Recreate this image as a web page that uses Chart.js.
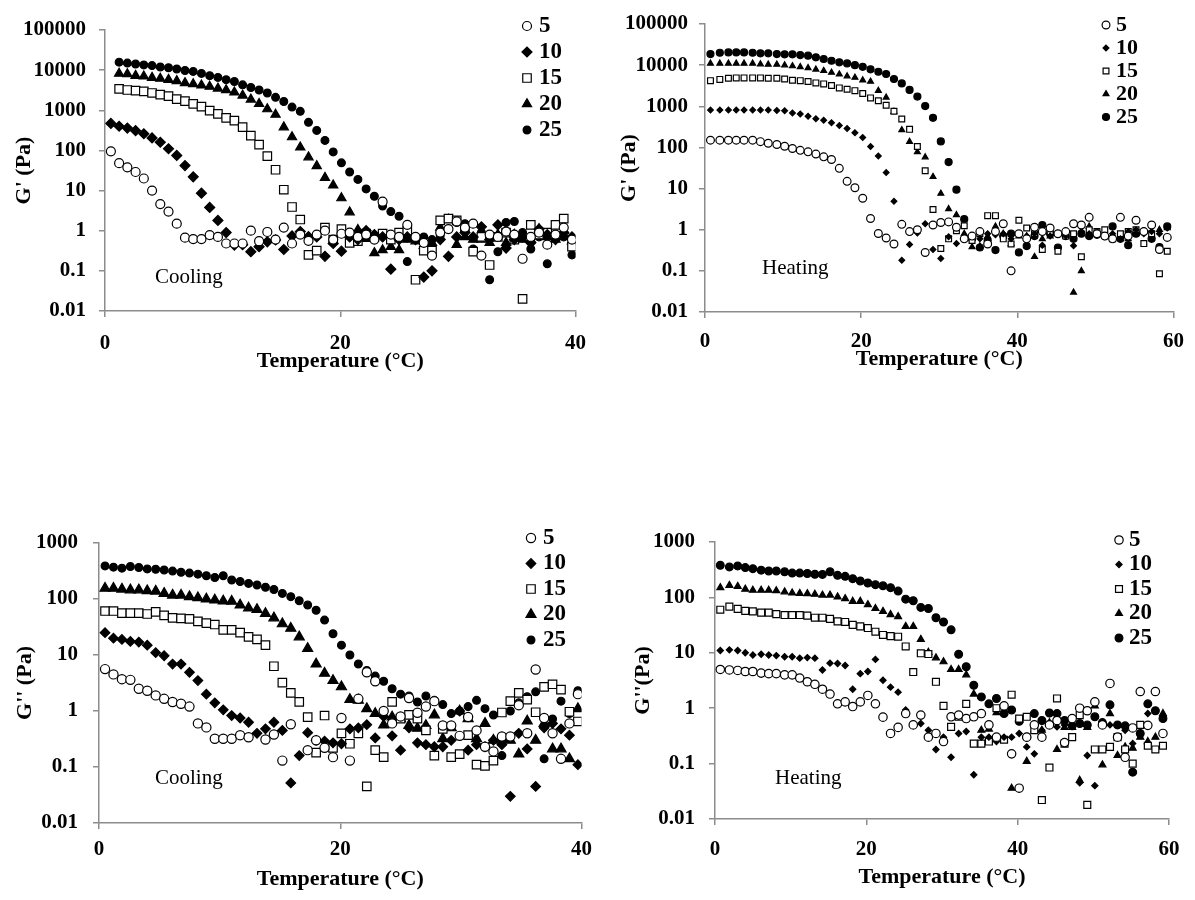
<!DOCTYPE html>
<html>
<head>
<meta charset="utf-8">
<script src="https://cdn.jsdelivr.net/npm/chart.js@4.4.1/dist/chart.umd.min.js"></script>
<style>
  body { margin: 0; background: #ffffff; width: 1195px; height: 900px; position: relative; overflow: hidden; }
  .panel { position: absolute; }
</style>
</head>
<body>
<script>
// ---- data ----
const seriesNames = ['5', '10', '15', '20', '25'];

// temperature grid (°C) for the cooling and heating sweeps
const coolTemp = [0.5, 1.2, 1.9, 2.6, 3.3, 4.0, 4.7, 5.4, 6.1, 6.8, 7.5, 8.2, 8.9, 9.6, 10.3, 11.0, 11.7, 12.4, 13.1, 13.8,
  14.5, 15.2, 15.9, 16.6, 17.3, 18.0, 18.7, 19.4, 20.1, 20.8, 21.5, 22.2, 22.9, 23.6, 24.3, 25.0, 25.7, 26.4, 27.1, 27.8,
  28.5, 29.2, 29.9, 30.6, 31.3, 32.0, 32.7, 33.4, 34.1, 34.8, 35.5, 36.2, 36.9, 37.6, 38.3, 39.0, 39.7];
const heatTemp = [0.7, 1.9, 3.0, 4.0, 5.0, 6.1, 7.1, 8.1, 9.2, 10.2, 11.2, 12.2, 13.2, 14.2, 15.2, 16.2, 17.2, 18.2, 19.2, 20.2,
  21.2, 22.2, 23.2, 24.2, 25.2, 26.2, 27.2, 28.2, 29.2, 30.2, 31.2, 32.2, 33.2, 34.2, 35.2, 36.2, 37.2, 38.2, 39.2, 40.2,
  41.2, 42.2, 43.2, 44.2, 45.2, 46.2, 47.2, 48.2, 49.2, 50.2, 51.2, 52.2, 53.2, 54.2, 55.2, 56.2, 57.2, 58.2, 59.2];

// tick labels
const gPrimeTicks = [0.01, 0.1, 1, 10, 100, 1000, 10000, 100000];
const gDoubleTicks = [0.01, 0.1, 1, 10, 100, 1000];
const coolTempTicks = [0, 20, 40];
const heatTempTicks = [0, 20, 40, 60];

// G' cooling (Pa)
const gpCool5 = [95, 48, 38, 29, 20, 10, 4.6, 3.0, 1.5, 0.67, 0.62, 0.62, 0.78, 0.7, 0.48, 0.48, 0.48, 1.0, 0.55, 0.93,
  0.6, 1.2, 0.48, 0.8, 0.56, 0.8, 1.0, 0.6, 0.84, 0.9, 0.7, 0.8, 0.6, 5.3, 0.8, 0.7, 1.4, 0.7, 0.5, 0.24,
  0.9, 1.1, 1.7, 1.2, 1.5, 0.24, 0.8, 0.7, 0.95, 0.8, 0.2, 0.7, 0.9, 0.45, 0.8, 1.2, 0.6];
const gpCool10 = [470, 400, 360, 310, 260, 205, 160, 110, 75, 42, 22, 8.6, 3.8, 1.8, 0.9, 0.44, 0.45, 0.3, 0.4, 0.53,
  0.59, 0.34, 0.74, 0.95, 0.71, 0.7, 0.23, 0.48, 0.31, 0.7, 0.6, 1.0, 0.8, 0.7, 0.11, 0.6, 0.7, 0.6, 0.07, 0.1,
  0.6, 0.23, 0.7, 0.9, 0.7, 1.25, 0.6, 1.4, 0.37, 0.6, 0.7, 0.5, 1.1, 0.8, 0.6, 0.9, 0.7];
const gpCool15 = [null, 3400, 3200, 3100, 2950, 2700, 2450, 2250, 1900, 1700, 1450, 1230, 980, 810, 650, 550, 380, 235, 140, 72,
  33, 10.5, 3.9, 1.9, 0.25, 0.32, 1.2, 0.6, 1.1, 0.5, 0.55, 0.85, 0.7, 0.85, 0.6, 0.9, 1.0, 0.06, 0.32, 0.32,
  1.8, 2.0, 1.8, 1.2, 0.3, 0.7, 0.14, 0.7, 0.9, 0.6, 0.02, 1.4, 0.8, 0.9, 1.4, 2.0, 0.4];
const gpCool20 = [null, 8200, 8000, 7300, 7000, 6500, 6200, 5800, 5400, 4800, 4500, 4200, 3900, 3500, 3200, 2800, 2350, 1860, 1450, 1070,
  780, 380, 215, 120, 68, 41, 21, 13.5, 6.5, 2.9, 1.05, 0.63, 0.28, 0.33, 0.4, 0.33, 0.6, 0.55, 0.42, 0.5,
  1.2, 1.9, 0.45, 0.7, 0.6, 0.6, 0.5, 0.8, 0.5, 0.8, 0.6, 0.6, 1.1, 0.7, 0.6, 1.0, 0.55];
const gpCool25 = [null, 15800, 15000, 14200, 13500, 13000, 12000, 11500, 10700, 9800, 9300, 8300, 7300, 6600, 5800, 5200, 4300, 3700, 3200, 2700,
  2100, 1660, 1200, 940, 500, 315, 178, 92, 49, 29, 19, 11, 7.2, 4.1, 3.0, 2.3, 0.17, 0.6, 0.7, 0.6,
  0.75, 1.1, 1.6, 1.5, 0.35, 0.9, 0.06, 0.3, 1.6, 1.7, 0.9, 0.35, 0.7, 0.15, 0.8, 0.7, 0.25];

// G' heating (Pa)
const gpHeat5 = [150, 150, 150, 150, 150, 150, 138, 126, 118, 107, 94, 85, 78, 69, 59, 51, 31, 15, 10.5, 5.8,
  1.87, 0.81, 0.63, 0.45, 1.35, 0.9, 1.0, 0.28, 1.3, 1.5, 1.55, 1.15, 0.6, 0.7, 0.9, 0.45, 0.9, 1.4, 0.1, 0.8,
  0.6, 1.15, 0.9, 1.1, 0.8, 0.9, 1.4, 1.3, 2.0, 0.8, 0.7, 0.6, 2.0, 0.7, 1.7, 0.9, 1.3, 0.33, 0.65];
const gpHeat10 = [810, 810, 810, 810, 810, 810, 810, 810, 790, 780, 690, 650, 575, 500, 460, 400, 340, 290, 228, 175,
  105, 62, 24.5, 4.9, 0.18, 0.44, 0.83, 1.4, 0.33, 0.2, 0.67, 0.46, 0.7, 0.7, 0.6, 0.8, 0.75, 0.8, 0.6, 0.8,
  0.7, 0.8, 0.42, 0.7, 0.8, 0.7, 0.41, 0.9, 0.8, 0.9, 0.7, 0.8, 0.6, 0.9, 1.0, 0.8, 0.9, 0.8, 1.1];
const gpHeat15 = [4200, 4500, 4800, 4900, 4900, 4900, 4900, 4800, 4800, 4600, 4300, 4200, 4000, 3700, 3500, 3200, 2800, 2600, 2400, 2050,
  1600, 1360, 1060, 760, 490, 275, 105, 27, 3.1, 0.35, 0.6, 0.95, 1.25, 0.55, 0.8, 2.2, 2.2, 0.6, 0.45, 1.7,
  1.1, 0.8, 0.33, 0.9, 0.3, 0.7, 0.8, 0.22, 1.0, 0.9, 1.0, 0.6, 0.8, 0.9, 1.0, 0.46, 0.8, 0.085, 0.3];
const gpHeat20 = [11000, 11000, 11000, 11000, 11000, 11000, 10600, 10400, 10400, 10000, 9500, 9100, 8600, 7900, 7300, 6600, 6000, 5400, 5000, 4300,
  4000, 2400, 1650, 740, 265, 138, 78, 58, 19.4, 7.6, 3.2, 2.3, 0.8, 0.38, 0.4, 0.7, 1.2, 0.8, 0.45, 0.7,
  0.7, 0.22, 0.6, 0.7, 0.8, 0.7, 0.03, 0.1, 1.2, 0.8, 0.7, 0.6, 0.7, 0.6, 0.8, 0.9, 0.7, 1.0, 1.1];
const gpHeat25 = [18600, 20000, 20400, 20400, 20400, 20000, 19400, 19400, 18600, 18300, 18300, 17600, 17000, 15500, 14100, 12800, 11700, 11000, 10000, 9100,
  7900, 6900, 6100, 4600, 3600, 2500, 1720, 1010, 525, 140, 44, 9.4, 1.8, 0.6, 0.37, 0.55, 0.32, 0.7, 0.8, 0.28,
  0.4, 0.7, 1.3, 0.8, 0.37, 0.7, 0.6, 0.8, 0.7, 0.75, 0.7, 1.2, 0.6, 0.42, 0.8, 0.9, 0.6, 0.38, 1.2];

// G'' cooling (Pa)
const gppCool5 = [5.6, 4.5, 3.7, 3.6, 2.5, 2.3, 1.9, 1.65, 1.45, 1.35, 1.2, 0.6, 0.51, 0.32, 0.32, 0.32, 0.37, 0.34, null, 0.31,
  0.38, 0.13, 0.58, null, 0.2, 0.3, 0.22, 0.15, 0.75, 0.13, 1.65, 4.9, 3.4, 1.0, 0.6, 0.8, 1.7, 0.93, 1.2, 1.5,
  0.55, 0.55, 0.36, 0.78, 0.45, 0.23, 0.19, 0.35, 0.35, 1.27, 0.4, 5.5, 0.75, 0.4, 0.14, 0.6, 2.0];
const gppCool10 = [25, 20, 19, 17.5, 17, 15, 11, 9.7, 6.9, 6.9, 4.9, 3.5, 2.0, 1.4, 1.05, 0.83, 0.75, 0.63, 0.4, 0.48,
  0.63, 0.45, 0.052, 0.16, 0.41, 0.3, 0.29, 0.27, 0.26, 0.48, 0.5, 0.57, 0.33, 0.8, 0.36, 0.2, 0.5, 0.27, 0.25, 0.23,
  0.23, 0.3, 1.0, 0.2, 0.25, 0.23, 0.3, 0.25, 0.03, 0.4, 0.21, 0.045, 0.5, 0.6, 0.48, 0.37, 0.11];
const gppCool15 = [61, 61, 56, 56, 56, 54, 59, 51, 46, 45, 44, 40, 37, 35, 28, 28, 25, 21, 19, 15,
  6.3, 3.2, 2.1, 1.45, 0.78, 0.18, 0.83, 0.22, 0.4, 0.26, 0.4, 0.045, 0.2, 0.15, 1.45, 0.73, 0.85, 0.73, 0.45, 0.16,
  0.48, 0.15, 0.17, 0.37, 0.11, 0.105, 0.13, 0.94, 1.5, 2.1, 1.6, 0.95, 2.7, 3.0, 2.4, 0.97, 0.65];
const gppCool20 = [155, 155, 150, 145, 145, 140, 138, 126, 117, 117, 110, 105, 100, 96, 92, 91, 78, 69, 65, 55,
  46, 36, 30, 21, 13, 6.9, 4.7, 3.5, 2.7, 1.6, 1.55, 1.1, 0.9, 0.56, 0.78, 0.73, 0.55, 0.49, 0.55, 0.85,
  0.32, 0.5, 1.0, 0.73, 0.32, 0.6, 0.3, 0.32, 0.3, 0.17, 0.66, 0.3, 0.6, 0.21, 0.21, 0.14, 1.1];
const gppCool25 = [390, 370, 355, 380, 365, 345, 340, 330, 315, 300, 290, 278, 260, 242, 260, 218, 205, 190, 178, 162,
  148, 126, 110, 93, 78, 63, 42, 24, 15, 10, 6.9, 5.3, 4.2, 3.4, 2.5, 2.0, 1.85, 1.45, 1.85, 1.55,
  1.3, 0.9, 1.0, 1.2, 1.55, 1.1, 0.85, 0.16, 1.0, 1.4, 1.8, 2.2, 0.14, 0.72, 1.5, 0.9, 2.3];

// G'' heating (Pa)
const gppHeat5 = [5.0, 4.9, 4.8, 4.6, 4.6, 4.3, 4.2, 4.2, 4.0, 4.0, 3.5, 3.0, 2.7, 2.2, 1.8, 1.2, 1.3, 1.07, 1.3, 1.7,
  1.2, 0.69, 0.35, 0.45, 0.8, 0.5, 0.75, 0.3, 0.35, 0.25, 0.7, 0.75, 0.65, 0.7, 0.8, 0.5, 0.3, 1.1, 0.15, 0.036,
  0.3, 0.5, 0.3, 0.5, 0.6, 0.24, 0.65, 1.0, 0.9, 1.3, 0.5, 2.8, 0.3, 0.13, 0.44, 2.0, 0.49, 2.0, 0.35];
const gppHeat10 = [11, 11.3, 11, 10, 9.1, 9.4, 9.1, 8.9, 8.5, 8.5, 8.0, 8.2, 8.0, 4.9, 6.5, 6.4, 5.9, 2.2, 4.2, 4.6,
  7.6, 3.2, 2.4, 1.95, 0.93, 0.5, 0.53, 0.4, 0.18, 0.3, 0.13, 0.35, 0.38, 0.063, 0.3, 0.3, 0.25, 0.3, 0.3, 0.35,
  0.2, 0.15, 0.4, 0.8, 0.46, 0.5, 0.5, 0.045, 0.14, 0.04, 0.5, 0.5, 0.5, 0.4, 0.23, 0.35, 0.8, 0.9, 0.7];
const gppHeat15 = [60, 68, 62, 57, 56, 53, 53, 50, 48, 48, 48, 47, 43, 43, 41, 37, 36, 32, 30, 28,
  24, 21, 20, 19.5, 13, 4.5, 9.8, 9.5, 3.0, 1.1, 0.46, 0.7, 1.2, 0.23, 0.23, 0.25, 1.0, 0.27, 1.75, 0.65,
  0.7, 0.4, 0.022, 0.085, 1.5, 0.23, 0.3, 0.75, 0.018, 0.18, 0.18, 0.2, 0.3, 0.18, 0.1, 0.5, 0.21, 0.18, 0.21];
const gppHeat20 = [150, 165, 158, 141, 135, 135, 135, 132, 126, 120, 118, 117, 114, 110, 110, 102, 95, 85, 85, 74,
  63, 56, 49, 45, 30, 30, 17.5, 10.2, 8.1, 6.9, 5.0, 5.0, 4.0, 1.8, 0.4, 0.42, 0.83, 0.85, 0.036, 0.6,
  0.11, 0.4, 0.4, 0.55, 0.18, 0.45, 0.45, 0.05, 0.45, 1.1, 0.095, 0.8, 0.14, 0.2, 0.19, 0.3, 0.25, 0.3, 0.8];
const gppHeat25 = [380, 355, 370, 345, 330, 310, 300, 300, 290, 275, 275, 270, 262, 260, 290, 250, 240, 218, 198, 182,
  170, 162, 150, 130, 93, 87, 66, 63, 43, 36, 26, 9.4, 5.6, 2.6, 1.6, 1.2, 1.5, 0.8, 0.93, 0.58,
  0.3, 0.8, 0.6, 0.82, 0.8, 0.6, 0.48, 0.53, 0.5, 0.7, 0.55, 1.15, 0.5, 0.48, 0.07, 0.35, 1.2, 0.9, 0.65];

// ---- drawing ----
const SERIF = "'Liberation Serif', 'Times New Roman', serif";
Chart.defaults.font.family = SERIF;
Chart.defaults.color = '#000';

const markerStyles = [
  { pointStyle: 'circle', fill: '#ffffff' },
  { pointStyle: 'rectRot', fill: '#000000' },
  { pointStyle: 'rect', fill: '#ffffff' },
  { pointStyle: 'triangle', fill: '#000000' },
  { pointStyle: 'circle', fill: '#000000' }
];
const axisGrey = '#8c8c8c';

function drawMarker(ctx, style, r, x, y) {
  ctx.beginPath();
  if (style === 'circle') {
    ctx.arc(x, y, r, 0, Math.PI * 2);
  } else if (style === 'rectRot') {
    ctx.moveTo(x - r, y); ctx.lineTo(x, y - r); ctx.lineTo(x + r, y); ctx.lineTo(x, y + r); ctx.closePath();
  } else if (style === 'rect') {
    const s = r * Math.SQRT1_2;
    ctx.rect(x - s, y - s, 2 * s, 2 * s);
  } else {
    const a = Math.PI * 2 / 3;
    ctx.moveTo(x, y - r);
    ctx.lineTo(x + Math.sin(a) * r, y - Math.cos(a) * r);
    ctx.lineTo(x + Math.sin(2 * a) * r, y - Math.cos(2 * a) * r);
    ctx.closePath();
  }
  ctx.fill();
  ctx.stroke();
}

// legend and the Cooling / Heating note, drawn inside the plot
const panelDecor = {
  id: 'panelDecor',
  afterDatasetsDraw(chart, args, o) {
    const ctx = chart.ctx;
    ctx.save();
    chart.data.datasets.forEach((ds, k) => {
      const y = o.legendY + k * o.legendStep;
      ctx.fillStyle = ds.pointBackgroundColor;
      ctx.strokeStyle = '#000';
      ctx.lineWidth = 1.2;
      drawMarker(ctx, ds.pointStyle, ds.pointRadius, o.legendX, y);
      ctx.fillStyle = '#000';
      ctx.font = 'bold ' + o.legendFont + 'px ' + SERIF;
      ctx.textAlign = 'left';
      ctx.textBaseline = 'middle';
      ctx.fillText(ds.label, o.legendTextX, y);
    });
    ctx.font = o.noteFont + 'px ' + SERIF;
    ctx.fillText(o.note, o.noteX, o.noteY);
    ctx.restore();
  }
};

function makePanel(cfg) {
  const [bx, by, bw, bh] = cfg.box;
  const [pl, pt, pr, pb] = cfg.plot;
  const wrap = document.createElement('div');
  wrap.className = 'panel';
  wrap.style.left = bx + 'px'; wrap.style.top = by + 'px';
  wrap.style.width = bw + 'px'; wrap.style.height = bh + 'px';
  const canvas = document.createElement('canvas');
  wrap.appendChild(canvas);
  document.body.appendChild(wrap);

  const datasets = cfg.series.map((vals, k) => ({
    label: seriesNames[k],
    data: cfg.temps.map((t, i) => ({ x: t, y: vals[i] })).filter(p => p.y != null),
    pointStyle: markerStyles[k].pointStyle,
    pointRadius: cfg.radii[k],
    pointBackgroundColor: markerStyles[k].fill,
    pointBorderColor: '#000',
    pointBorderWidth: 1.2,
    showLine: false
  }));

  const tickFont = { family: SERIF, size: 21, weight: 'bold' };
  const titleFont = { family: SERIF, size: 22, weight: 'bold' };

  new Chart(canvas, {
    type: 'scatter',
    data: { datasets },
    options: {
      responsive: true,
      maintainAspectRatio: false,
      animation: false,
      layout: { padding: { left: 0, top: pt - by, right: bx + bw - pr, bottom: 0 } },
      plugins: {
        legend: { display: false },
        tooltip: { enabled: false },
        panelDecor: {
          legendX: cfg.legend[0] - bx, legendTextX: cfg.legend[1] - bx,
          legendY: cfg.legend[2] - by, legendStep: cfg.legend[3], legendFont: cfg.legend[4],
          note: cfg.note, noteX: cfg.notePos[0] - bx, noteY: cfg.notePos[1] - by, noteFont: 21
        }
      },
      scales: {
        x: {
          type: 'linear',
          min: 0, max: cfg.xTicks[cfg.xTicks.length - 1],
          afterBuildTicks: s => { s.ticks = cfg.xTicks.map(v => ({ value: v })); },
          afterFit: s => { s.height = by + bh - pb; },
          ticks: { font: tickFont, color: '#000', padding: cfg.xTickPad, maxRotation: 0 },
          grid: { display: true, drawOnChartArea: false, drawTicks: true, tickLength: 6, color: axisGrey, lineWidth: 1.5 },
          border: { display: true, color: axisGrey, width: 1.5 },
          title: { display: true, text: 'Temperature (°C)', font: titleFont, color: '#000', padding: { top: 0, bottom: cfg.xTitlePad } }
        },
        y: {
          type: 'logarithmic',
          min: cfg.yTicks[0], max: cfg.yTicks[cfg.yTicks.length - 1],
          afterBuildTicks: s => { s.ticks = cfg.yTicks.map(v => ({ value: v })); },
          afterFit: s => { s.width = pl - bx; },
          ticks: { font: tickFont, color: '#000', padding: cfg.yTickPad, callback: v => String(v) },
          grid: { display: true, drawOnChartArea: false, drawTicks: true, tickLength: 6, color: axisGrey, lineWidth: 1.5 },
          border: { display: true, color: axisGrey, width: 1.5 },
          title: { display: true, text: cfg.yTitle, font: titleFont, color: '#000', padding: { top: cfg.yTitlePad, bottom: 0 } }
        }
      }
    },
    plugins: [panelDecor]
  });
}

makePanel({
  box: [0, 0, 600, 380], plot: [105, 30, 590, 311],
  temps: coolTemp, series: [gpCool5, gpCool10, gpCool15, gpCool20, gpCool25],
  radii: [4.5, 5, 6, 5.3, 3.9], xTicks: coolTempTicks, yTicks: gPrimeTicks,
  yTitle: "G' (Pa)", yTitlePad: 11, yTickPad: 13, xTickPad: 14, xTitlePad: 5,
  legend: [527, 539, 26, 26, 23], note: 'Cooling', notePos: [155, 277]
});
makePanel({
  box: [600, 0, 595, 380], plot: [705, 24, 1180, 312],
  temps: heatTemp, series: [gpHeat5, gpHeat10, gpHeat15, gpHeat20, gpHeat25],
  radii: [3.9, 2.9, 4.1, 3.4, 3.5], xTicks: heatTempTicks, yTicks: gPrimeTicks,
  yTitle: "G' (Pa)", yTitlePad: 16, yTickPad: 11, xTickPad: 11, xTitlePad: 7,
  legend: [1106, 1116, 25, 23, 22], note: 'Heating', notePos: [762, 268]
});
makePanel({
  box: [0, 400, 600, 500], plot: [99, 543, 588, 823],
  temps: coolTemp, series: [gppCool5, gppCool10, gppCool15, gppCool20, gppCool25],
  radii: [4.6, 4.8, 6, 5.8, 3.9], xTicks: coolTempTicks, yTicks: gDoubleTicks,
  yTitle: "G'' (Pa)", yTitlePad: 12, yTickPad: 15, xTickPad: 8, xTitlePad: 7,
  legend: [531, 543, 538, 25.5, 23], note: 'Cooling', notePos: [155, 778]
});
makePanel({
  box: [600, 400, 595, 500], plot: [715, 542, 1169, 819],
  temps: heatTemp, series: [gppHeat5, gppHeat10, gppHeat15, gppHeat20, gppHeat25],
  radii: [4.2, 3.1, 4.9, 4, 3.9], xTicks: heatTempTicks, yTicks: gDoubleTicks,
  yTitle: "G''(Pa)", yTitlePad: 30, yTickPad: 14, xTickPad: 12, xTitlePad: 9,
  legend: [1119, 1129, 540, 24.5, 23], note: 'Heating', notePos: [775, 778]
});
</script>
</body>
</html>
